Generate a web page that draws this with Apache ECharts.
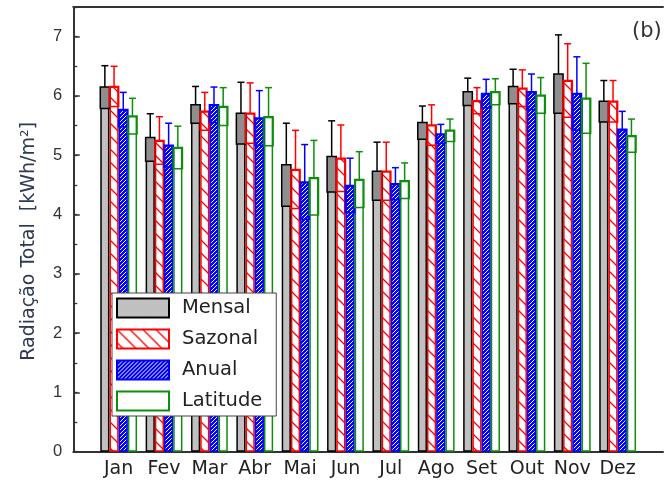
<!DOCTYPE html>
<html><head><meta charset="utf-8">
<script src="https://cdn.jsdelivr.net/npm/echarts@6/dist/echarts.min.js"></script>
<style>html,body{margin:0;padding:0;background:#fff}#c{width:666px;height:484px}</style>
</head><body><div id="c"></div>
<script>
const months = ['Jan','Fev','Mar','Abr','Mai','Jun','Jul','Ago','Set','Out','Nov','Dez'];
const mensal      = [6.15, 5.30, 5.85, 5.71, 4.84, 4.98, 4.73, 5.55, 6.07, 6.16, 6.37, 5.91];
const mensalErr   = [0.36, 0.40, 0.31, 0.52, 0.70, 0.60, 0.49, 0.28, 0.23, 0.29, 0.66, 0.35];
const sazonal     = [6.16, 5.25, 5.74, 5.71, 4.76, 4.95, 4.73, 5.51, 5.92, 6.13, 6.26, 5.91];
const sazonalErr  = [0.34, 0.40, 0.32, 0.51, 0.66, 0.56, 0.49, 0.34, 0.22, 0.31, 0.62, 0.35];
const anual       = [5.77, 5.17, 5.85, 5.63, 4.55, 4.49, 4.52, 5.36, 6.04, 6.07, 6.04, 5.44];
const anualErr    = [0.29, 0.37, 0.30, 0.46, 0.63, 0.46, 0.27, 0.16, 0.24, 0.30, 0.62, 0.30];
const latitude    = [5.66, 5.13, 5.82, 5.65, 4.62, 4.59, 4.57, 5.42, 6.07, 6.01, 5.96, 5.33];
const latitudeErr = [0.30, 0.36, 0.32, 0.49, 0.63, 0.47, 0.30, 0.19, 0.22, 0.30, 0.59, 0.28];
const yTicks = [0,1,2,3,4,5,6,7];

const BW = 9.2, CAP = 7;

function hatchCanvas() {
  const n = 13;
  const c = document.createElement('canvas'); c.width = n; c.height = n;
  const g = c.getContext('2d');
  g.fillStyle = '#fff'; g.fillRect(0,0,n,n);
  g.strokeStyle = '#ff0000'; g.lineWidth = 1.3;
  g.beginPath();
  g.moveTo(-2,-2); g.lineTo(n+2,n+2);
  g.moveTo(-2,n-2); g.lineTo(2,n+2);
  g.moveTo(n-2,-2); g.lineTo(n+2,2);
  g.stroke();
  return c;
}
function dotCanvas() {
  const c = document.createElement('canvas'); c.width = 4; c.height = 4;
  const g = c.getContext('2d');
  g.fillStyle = '#0000ff'; g.fillRect(0,0,4,4);
  g.fillStyle = '#ffffff';
  g.fillRect(1,0,1,1); g.fillRect(0,1,1,1); g.fillRect(3,2,1,1); g.fillRect(2,3,1,1);
  return c;
}

function barSeries(name, vals, style) {
  return {
    type: 'bar', name: name, xAxisIndex: 0, yAxisIndex: 0,
    data: vals.map((v, i) => [i + 1, v]),
    barWidth: BW, barGap: '0%',
    itemStyle: style, emphasis: {disabled: true}, z: 2
  };
}
function errSeries(k, vals, errs, color, boxFill) {
  return {
    type: 'custom', name: 'err' + k, xAxisIndex: 0, yAxisIndex: 0, z: 3, silent: true,
    data: vals.map((v, i) => [i + 1, v, errs[i]]),
    renderItem: function (params, api) {
      const x = api.value(0), v = api.value(1), e = api.value(2);
      const p = api.coord([x, v]);
      const pu = api.coord([x, v + e]);
      const pl = api.coord([x, v - e]);
      const cx = p[0] + (k - 1.5) * BW;
      const l = cx - BW / 2;
      return { type: 'group', children: [
        {type: 'rect', shape: {x: l, y: p[1], width: BW, height: pl[1] - p[1]},
         style: {fill: boxFill || 'none', stroke: color, lineWidth: 1.5}},
        {type: 'line', shape: {x1: cx, y1: p[1], x2: cx, y2: pu[1]},
         style: {stroke: color, lineWidth: 1.5}},
        {type: 'line', shape: {x1: cx - CAP/2, y1: pu[1], x2: cx + CAP/2, y2: pu[1]},
         style: {stroke: color, lineWidth: 1.5}}
      ]};
    }
  };
}

const RED = '#ff0000', BLUE = '#0000ff', GREEN = '#0c8f0c';
const chart = echarts.init(document.getElementById('c'));
chart.setOption({
  animation: false,
  backgroundColor: '#fff',
  grid: {left: 73.3, right: -11.8, top: 7, bottom: 32.3},
  xAxis: [
    {type: 'value', position: 'bottom', min: 0, max: 13, interval: 1,
     axisLine: {onZero: false, lineStyle: {color: '#333', width: 2}},
     axisTick: {show: false}, splitLine: {show: false},
     axisLabel: {margin: 8, fontFamily: 'DejaVu Sans', fontSize: 19, color: '#222',
       formatter: v => months[v - 1] || ''}},
    {type: 'value', position: 'top', min: 0, max: 13,
     axisLine: {onZero: false, lineStyle: {color: '#333', width: 2}},
     axisTick: {show: false}, axisLabel: {show: false}, splitLine: {show: false}}
  ],
  yAxis: [
    {type: 'value', position: 'left', min: 0, max: 7.5, interval: 1,
     name: 'Radiação Total  [kWh/m²]', nameLocation: 'middle', nameGap: 35,
     nameTextStyle: {fontFamily: 'DejaVu Sans', fontSize: 19, color: '#2e3a55', padding: [0, 24, 0, 0]},
     axisLine: {onZero: false, lineStyle: {color: '#333', width: 2}},
     axisTick: {inside: true, length: 6.5, lineStyle: {color: '#333', width: 1.5}},
     splitLine: {show: false},
     axisLabel: {margin: 11, fontFamily: 'Liberation Sans', fontSize: 16.5, color: '#333',
       formatter: v => (yTicks.indexOf(v) >= 0 ? String(v) : '')}},
    {type: 'value', position: 'left', min: 0, max: 7.5, interval: 0.5,
     axisLine: {show: false, onZero: false},
     axisTick: {inside: true, length: 4, lineStyle: {color: '#333', width: 1.3}},
     axisLabel: {show: false}, splitLine: {show: false}}
  ],
  legend: {
    data: ['Mensal', 'Sazonal', 'Anual', 'Latitude'],
    orient: 'vertical', left: 112, top: 293,
    itemWidth: 52, itemHeight: 19, itemGap: 10, icon: 'rect',
    padding: [4.5, 14, 4.5, 4],
    backgroundColor: '#fff', borderColor: '#444', borderWidth: 1,
    selectedMode: false,
    textStyle: {fontFamily: 'DejaVu Sans', fontSize: 19.5, color: '#222', padding: [0, 0, 0, 8]}
  },
  graphic: [
    {type: 'text', left: 632, top: 21, style: {text: '(b)', font: '21px "DejaVu Sans"', fill: '#333'}}
  ],
  series: [
    barSeries('Mensal', mensal, {color: '#c0c0c0', borderColor: '#000', borderWidth: 1.5}),
    barSeries('Sazonal', sazonal, {color: {image: hatchCanvas(), repeat: 'repeat'}, borderColor: RED, borderWidth: 1.5}),
    barSeries('Anual', anual, {color: {image: dotCanvas(), repeat: 'repeat'}, borderColor: BLUE, borderWidth: 1.5}),
    barSeries('Latitude', latitude, {color: '#fff', borderColor: GREEN, borderWidth: 1.5}),
    errSeries(0, mensal, mensalErr, '#000', '#8e8e8e'),
    errSeries(1, sazonal, sazonalErr, RED),
    errSeries(2, anual, anualErr, BLUE),
    errSeries(3, latitude, latitudeErr, GREEN)
  ]
});
</script></body></html>
